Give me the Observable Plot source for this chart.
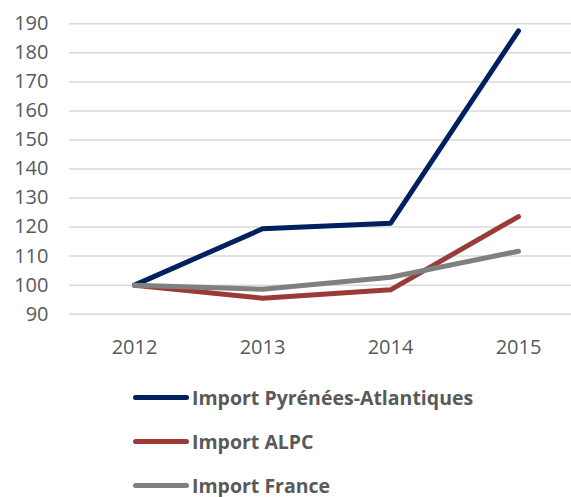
<!DOCTYPE html>
<html><head><meta charset="utf-8">
<script src="https://cdn.jsdelivr.net/npm/d3@7"></script>
<script src="https://cdn.jsdelivr.net/npm/@observablehq/plot@0.6"></script>
<style>
html,body{margin:0;padding:0;background:#fff;overflow:hidden;width:571px;height:497px}
#chart svg{display:block}
#legend{font-family:"Open Sans",sans-serif;font-weight:bold;font-size:19.5px;color:#595959;}
.item{display:flex;align-items:center;height:44px;padding-left:133px;white-space:nowrap}
.sw{display:inline-block;width:56px;height:5px;border-radius:3px;margin-right:3px}
</style></head><body><div id="chart"></div><div id="legend"></div>
<script>
const years = ["2012", "2013", "2014", "2015"];
const seriesNames = ["Import Pyrénées-Atlantiques", "Import ALPC", "Import France"];
const pyrenees = [100, 119.4, 121.3, 187.6];
const alpc = [100, 95.5, 98.4, 123.6];
const france = [100, 98.6, 102.7, 111.7];
const colors = ["#002060", "#9a3b38", "#808080"];
const yTicks = [90, 100, 110, 120, 130, 140, 150, 160, 170, 180, 190];

const allSeries = [pyrenees, alpc, france];
const data = [];
seriesNames.forEach((name, i) => {
  years.forEach((yr, j) => data.push({series: name, year: yr, value: allSeries[i][j]}));
});

const chart = Plot.plot({
  width: 571,
  height: 375,
  marginLeft: 69,
  marginRight: -12.5,
  marginTop: 23.3,
  marginBottom: 61.3,
  style: {fontFamily: '"Open Sans", sans-serif', fontSize: "20px", color: "#595959", background: "#fff"},
  x: {type: "point", domain: years, padding: 0.5, label: null, tickSize: 0, tickPadding: 26},
  y: {domain: [90, 190], ticks: yTicks, label: null, tickSize: 0, tickPadding: 21},
  color: {domain: seriesNames, range: colors},
  marks: [
    Plot.ruleY(yTicks, {stroke: "#d9d9d9", strokeWidth: 1.5}),
    Plot.line(data, {x: "year", y: "value", stroke: "series", z: "series", strokeWidth: 5, strokeLinecap: "round", strokeLinejoin: "round"})
  ]
});
document.getElementById("chart").appendChild(chart);

const legend = document.getElementById("legend");
seriesNames.forEach((name, i) => {
  const row = document.createElement("div");
  row.className = "item";
  const sw = document.createElement("span");
  sw.className = "sw";
  sw.style.background = colors[i];
  const label = document.createElement("span");
  label.textContent = name;
  row.appendChild(sw);
  row.appendChild(label);
  legend.appendChild(row);
});
</script>
</body></html>
